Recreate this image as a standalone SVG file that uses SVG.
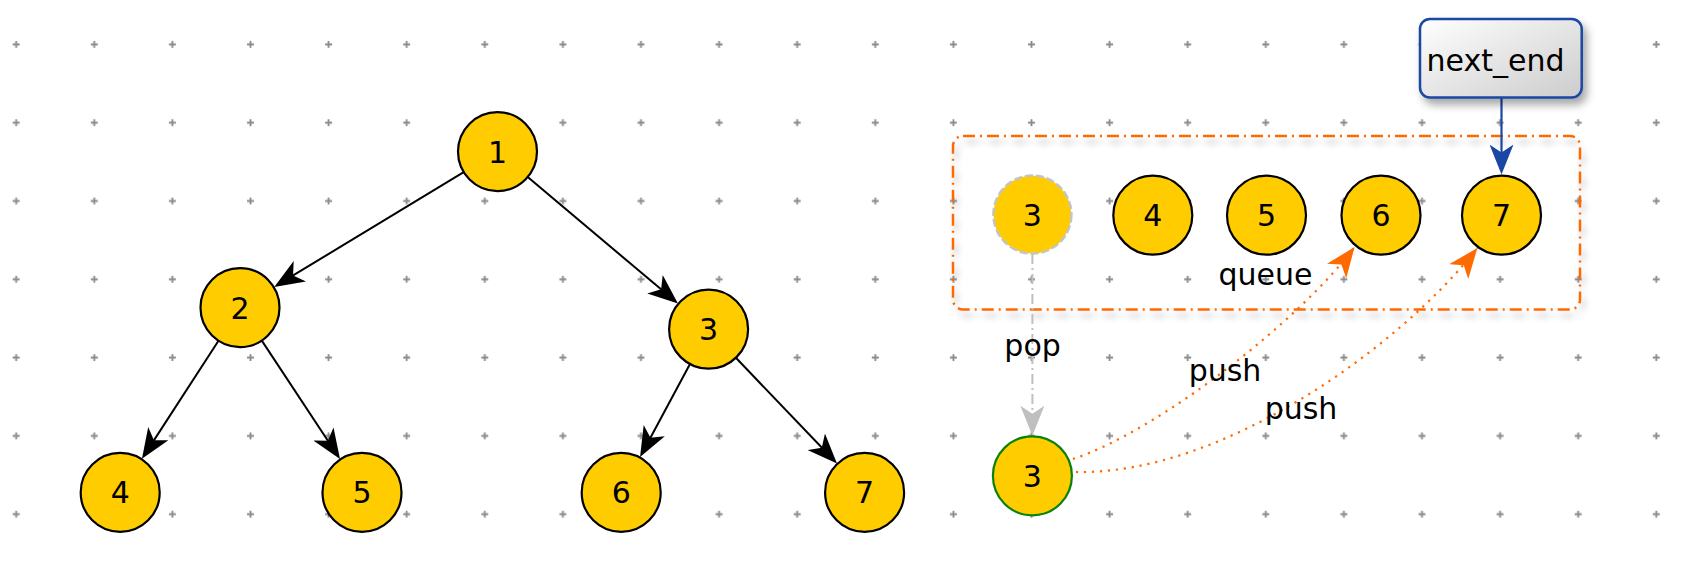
<svg xmlns="http://www.w3.org/2000/svg" width="1704" height="566" viewBox="0 0 1704 566">
  <defs>
    <pattern id="grid" patternUnits="userSpaceOnUse" x="-22.85" y="5.25" width="78.1" height="78.3">
      <path d="M35.55 39.15 H42.55 M39.05 35.65 V42.65" stroke="#8a8a8a" stroke-width="1.8" fill="none"/>
    </pattern>
    <linearGradient id="boxGrad" x1="0" y1="0" x2="1" y2="1">
      <stop offset="0" stop-color="#ffffff"/>
      <stop offset="1" stop-color="#cccccc"/>
    </linearGradient>
    <filter id="shadowC" x="-10%" y="-20%" width="120%" height="150%">
      <feGaussianBlur in="SourceAlpha" stdDeviation="3"/>
      <feOffset dx="3" dy="6" result="b"/>
      <feFlood flood-color="#000" flood-opacity="0.25"/>
      <feComposite in2="b" operator="in"/>
      <feMerge><feMergeNode/><feMergeNode in="SourceGraphic"/></feMerge>
    </filter>
    <filter id="shadowB" x="-20%" y="-30%" width="150%" height="170%">
      <feGaussianBlur in="SourceAlpha" stdDeviation="4"/>
      <feOffset dx="4" dy="6" result="b"/>
      <feFlood flood-color="#000" flood-opacity="0.35"/>
      <feComposite in2="b" operator="in"/>
      <feMerge><feMergeNode/><feMergeNode in="SourceGraphic"/></feMerge>
    </filter>
    <marker id="ahBlack" viewBox="0 0 30 24" refX="20" refY="12" markerWidth="30" markerHeight="24" markerUnits="userSpaceOnUse" orient="auto">
      <path d="M30 12 L0 0 L8 12 L0 24 Z" fill="#000"/>
    </marker>
    <marker id="ahBlue" viewBox="0 0 30 24" refX="20" refY="12" markerWidth="30" markerHeight="24" markerUnits="userSpaceOnUse" orient="auto">
      <path d="M30 12 L0 0 L8 12 L0 24 Z" fill="#1a47a3"/>
    </marker>
    <marker id="ahGray" viewBox="0 0 30 24" refX="20" refY="12" markerWidth="30" markerHeight="24" markerUnits="userSpaceOnUse" orient="auto">
      <path d="M30 12 L0 0 L8 12 L0 24 Z" fill="#bfbfbf"/>
    </marker>
    <marker id="ahOrange" viewBox="0 0 30 24" refX="30" refY="12" markerWidth="30" markerHeight="24" markerUnits="userSpaceOnUse" orient="auto">
      <path d="M30 12 L0 0 L8 12 L0 24 Z" fill="#ff6a00"/>
    </marker>
  </defs>
  <style>
    .node circle { fill: #ffcc00; stroke: #000; stroke-width: 2.2; }
    .lbl { font-family: "DejaVu Sans", "Liberation Sans", sans-serif; font-size: 30px; fill: #000; text-anchor: middle; }
    .edge { fill: none; stroke: #000; stroke-width: 2; marker-end: url(#ahBlack); }
    .push { fill: none; stroke: #ff6a00; stroke-width: 2.2; stroke-dasharray: 2.2 5.8; marker-end: url(#ahOrange); }
  </style>

  <rect x="0" y="0" width="1704" height="566" fill="#ffffff"/>
  <rect x="0" y="0" width="1704" height="566" fill="url(#grid)"/>

  <g id="queue">
    <rect x="953" y="136" width="627" height="173.5" rx="10" fill="none" stroke="#ff6a00" stroke-width="2.5" stroke-dasharray="12 5 2 5" filter="url(#shadowC)"/>
    <text class="lbl" x="1265.5" y="285">queue</text>
  </g>

  <g id="connectors">
    <path class="edge" d="M463.7 172.1 L282.8 281.7"/>
    <path class="edge" d="M527.7 177.0 L670.3 297.1"/>
    <path class="edge" d="M218.5 340.8 L147.4 450.4"/>
    <path class="edge" d="M261.8 340.6 L334.5 450.7"/>
    <path class="edge" d="M690.0 364.0 L644.8 448.3"/>
    <path class="edge" d="M735.9 357.8 L830.1 456.3"/>
    <path d="M1501.5 97.5 L1501.5 164.5" fill="none" stroke="#1a47a3" stroke-width="2.2" marker-end="url(#ahBlue)"/>
    <path d="M1032.4 254 L1032.4 425.8" fill="none" stroke="#bfbfbf" stroke-width="2" stroke-dasharray="10 4 2 4" marker-end="url(#ahGray)"/>
    <path class="push" d="M1073 459 C1160 430 1300 320 1354.6 247"/>
    <path class="push" d="M1076 472 C1220 475 1397 350 1477.4 248"/>
    <text class="lbl" x="1032.6" y="355.6">pop</text>
    <text class="lbl" x="1225" y="381">push</text>
    <text class="lbl" x="1301" y="419">push</text>
  </g>

  <g id="n1" class="node"><circle cx="497.5" cy="151.6" r="39.5"/><text class="lbl" x="497.5" y="162.6">1</text></g>
  <g id="n2" class="node"><circle cx="240" cy="307.6" r="39.5"/><text class="lbl" x="240" y="318.6">2</text></g>
  <g id="n3" class="node"><circle cx="708.6" cy="329.2" r="39.5"/><text class="lbl" x="708.6" y="340.2">3</text></g>
  <g id="n4" class="node"><circle cx="120.2" cy="492.4" r="39.5"/><text class="lbl" x="120.2" y="503.4">4</text></g>
  <g id="n5" class="node"><circle cx="362" cy="492.4" r="39.5"/><text class="lbl" x="362" y="503.4">5</text></g>
  <g id="n6" class="node"><circle cx="621.2" cy="492.4" r="39.5"/><text class="lbl" x="621.2" y="503.4">6</text></g>
  <g id="n7" class="node"><circle cx="864.6" cy="492.4" r="39.5"/><text class="lbl" x="864.6" y="503.4">7</text></g>

  <g id="q3" class="node"><circle cx="1032.4" cy="214.6" r="39" style="stroke:#c4c4c4;stroke-width:2.5;stroke-dasharray:8 3"/><text class="lbl" x="1032.4" y="226">3</text></g>
  <g id="q4" class="node"><circle cx="1152.8" cy="215.2" r="39.5"/><text class="lbl" x="1152.8" y="226.2">4</text></g>
  <g id="q5" class="node"><circle cx="1266.5" cy="215.2" r="39.5"/><text class="lbl" x="1266.5" y="226.2">5</text></g>
  <g id="q6" class="node"><circle cx="1381" cy="215.2" r="39.5"/><text class="lbl" x="1381" y="226.2">6</text></g>
  <g id="q7" class="node"><circle cx="1501.5" cy="215.2" r="39.5"/><text class="lbl" x="1501.5" y="226.2">7</text></g>

  <g id="popped" class="node"><circle cx="1032.4" cy="475.8" r="39.5" style="stroke:#0a820a"/><text class="lbl" x="1032.4" y="486.8">3</text></g>

  <g id="next_end">
    <rect x="1420" y="19" width="161.7" height="78.5" rx="10" fill="url(#boxGrad)" stroke="#1a47a3" stroke-width="2.5" filter="url(#shadowB)"/>
    <text class="lbl" x="1495.5" y="71">next_end</text>
  </g>
</svg>
